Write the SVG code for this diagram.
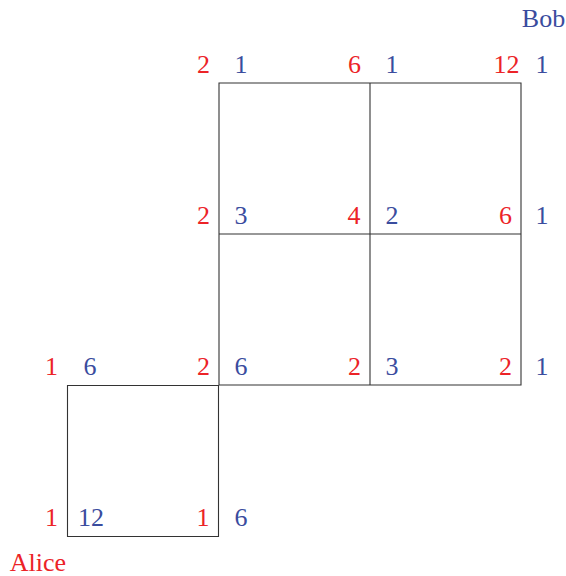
<svg xmlns="http://www.w3.org/2000/svg" width="566" height="576" viewBox="0 0 566 576">
<defs>
<style>
text{font-family:'Liberation Serif','Times New Roman','DejaVu Serif',serif;font-size:26px;text-anchor:middle}
.r{fill:#ec2327}
.b{fill:#3a4c9e}
.c{fill:none;stroke:#333;stroke-width:1.1}
</style>
</defs>
<rect width="566" height="576" fill="#fff"/>
<g id="connectors">
<path class="c" d="M219,83H521V385H219Z M370,83V385 M219,234H521 M67.5,385.5H218.5V536.5H67.5Z"/>
</g>
<g id="labels">
<text class="r" x="203.5" y="73">2</text><text class="b" x="241" y="73">1</text>
<text class="r" x="354.5" y="73">6</text><text class="b" x="392" y="73">1</text>
<text class="r" x="506.5" y="73">12</text><text class="b" x="542" y="73">1</text>
<text class="r" x="203.5" y="224">2</text><text class="b" x="241" y="224">3</text>
<text class="r" x="354" y="224">4</text><text class="b" x="392" y="224">2</text>
<text class="r" x="505.5" y="224">6</text><text class="b" x="542" y="224">1</text>
<text class="r" x="51.5" y="375">1</text><text class="b" x="90" y="375">6</text>
<text class="r" x="203.5" y="375">2</text><text class="b" x="241" y="375">6</text>
<text class="r" x="354.5" y="375">2</text><text class="b" x="392" y="375">3</text>
<text class="r" x="505.5" y="375">2</text><text class="b" x="542" y="375">1</text>
<text class="r" x="51.5" y="526">1</text><text class="b" x="91" y="526">12</text>
<text class="r" x="203" y="526">1</text><text class="b" x="241" y="526">6</text>
</g>
<g id="Bob"><text class="b" x="543.5" y="27">Bob</text></g>
<g id="Alice"><text class="r" x="38" y="571">Alice</text></g>
</svg>
